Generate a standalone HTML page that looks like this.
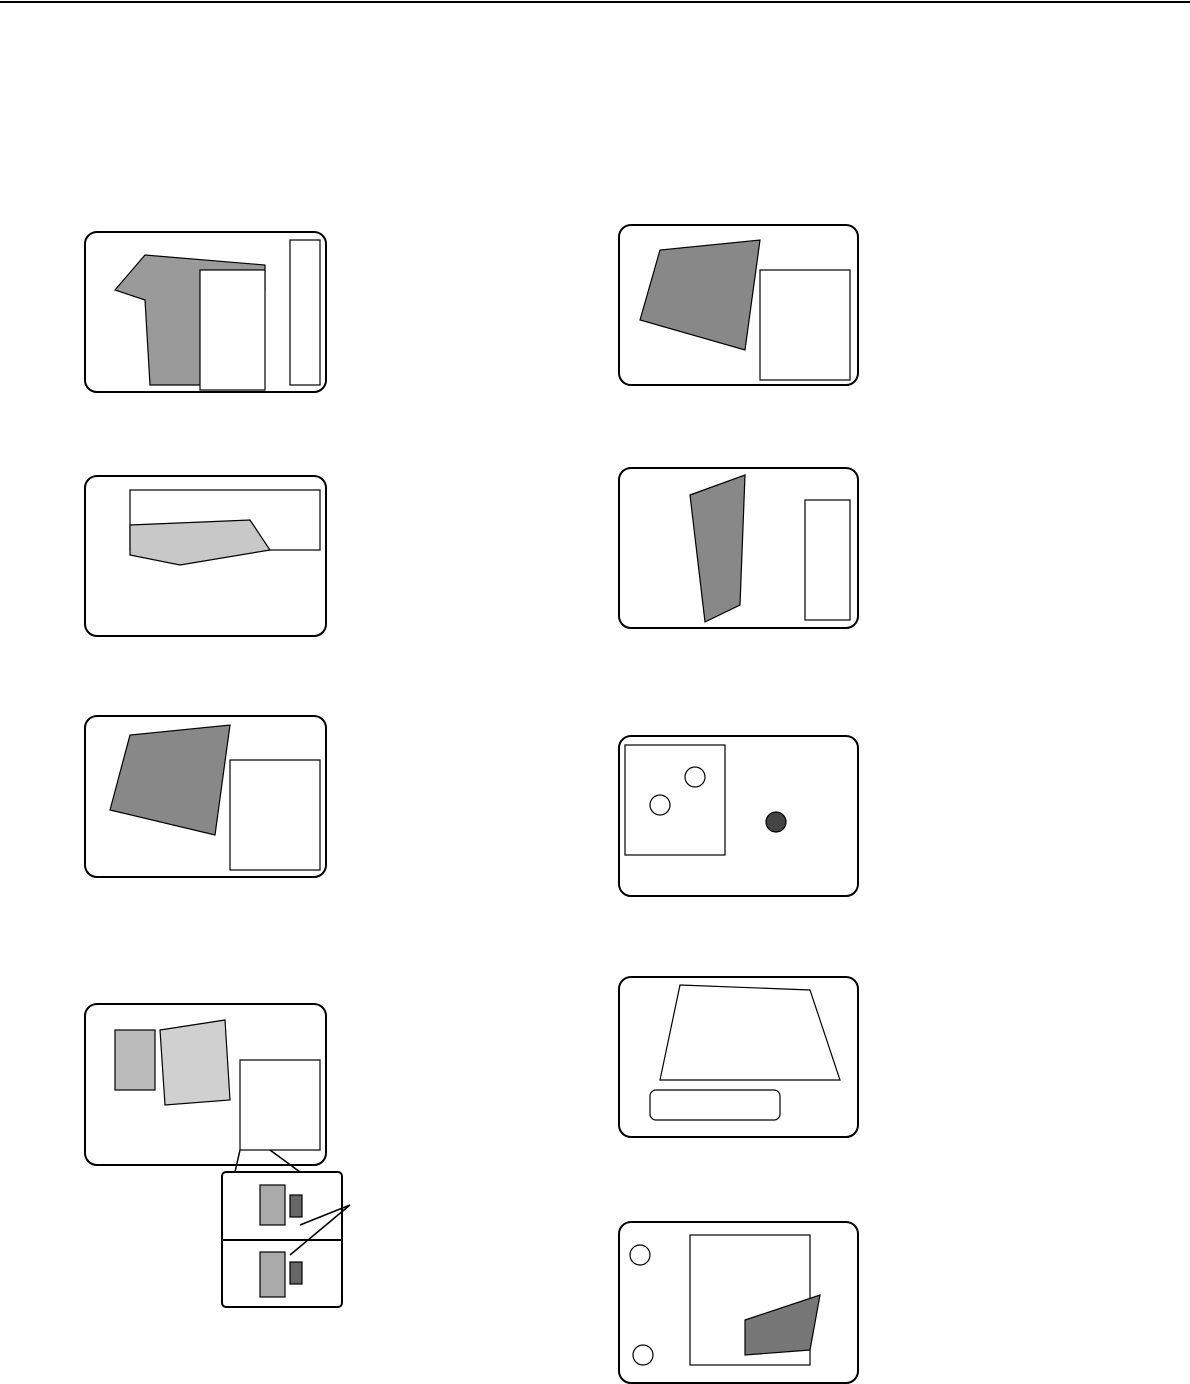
<!DOCTYPE html>
<html><head><meta charset="utf-8"><style>
html,body{margin:0;padding:0;background:#fff;}
svg{display:block;}
</style></head><body>
<svg width="1190" height="1384" viewBox="0 0 1190 1384" xmlns="http://www.w3.org/2000/svg">
<rect width="1190" height="1384" fill="#fff"/>
<line x1="0" y1="2" x2="1190" y2="2" stroke="#000" stroke-width="2"/>
<g stroke="#000" stroke-width="2" fill="none">
<!-- left frames -->
<rect x="85" y="232" width="241" height="160" rx="12"/>
<rect x="85" y="476" width="241" height="160" rx="12"/>
<rect x="85" y="716" width="241" height="161" rx="12"/>
<rect x="85" y="1004" width="241" height="161" rx="12"/>
<rect x="222" y="1172" width="120" height="135" rx="4"/>
<line x1="222" y1="1240" x2="342" y2="1240"/>
<!-- right frames -->
<rect x="619" y="225" width="239" height="160" rx="12"/>
<rect x="619" y="468" width="239" height="160" rx="12"/>
<rect x="619" y="736" width="239" height="160" rx="12"/>
<rect x="619" y="977" width="239" height="160" rx="12"/>
<rect x="619" y="1222" width="239" height="161" rx="12"/>
</g>
<g fill="#9a9a9a" stroke="#000" stroke-width="1.2">
<!-- frame 1 -->
<polygon points="115,290 145,255 265,265 265,290 210,300 200,385 150,385 145,300"/>
<rect x="200" y="270" width="65" height="120" fill="#fff"/>
<rect x="290" y="240" width="30" height="145" fill="#fff"/>
<!-- frame 2 -->
<rect x="130" y="490" width="190" height="60" fill="#fff"/>
<polygon points="130,525 250,520 270,550 180,565 130,555" fill="#c8c8c8"/>
<!-- frame 3 -->
<polygon points="110,810 130,735 230,725 215,835" fill="#888"/>
<rect x="230" y="760" width="90" height="110" fill="#fff"/>
<!-- frame 4 -->
<polygon points="160,1030 225,1020 230,1100 165,1105" fill="#d0d0d0"/>
<rect x="115" y="1030" width="40" height="60" fill="#bbb"/>
<rect x="240" y="1060" width="80" height="90" fill="#fff"/>
<rect x="260" y="1185" width="25" height="40" fill="#aaa"/>
<rect x="260" y="1252" width="25" height="45" fill="#aaa"/>
<rect x="290" y="1195" width="12" height="22" fill="#666"/>
<rect x="290" y="1262" width="12" height="22" fill="#666"/>
<!-- right frame 1 -->
<polygon points="640,320 660,250 760,240 745,350" fill="#888"/>
<rect x="760" y="270" width="90" height="110" fill="#fff"/>
<!-- right frame 2 -->
<polygon points="690,495 745,475 740,605 705,622" fill="#888"/>
<rect x="805" y="500" width="45" height="120" fill="#fff"/>
<!-- right frame 3 -->
<rect x="625" y="745" width="100" height="110" fill="#fff"/>
<circle cx="776" cy="822" r="10" fill="#444"/>
<circle cx="660" cy="805" r="10" fill="#fff"/>
<circle cx="695" cy="777" r="10" fill="#fff"/>
<!-- right frame 4 -->
<polygon points="680,985 810,990 840,1080 660,1080" fill="#fff"/>
<rect x="650" y="1090" width="130" height="30" rx="6" fill="#fff"/>
<!-- right frame 5 -->
<rect x="690" y="1235" width="120" height="130" fill="#fff"/>
<polygon points="745,1320 820,1295 810,1350 745,1355" fill="#777"/>
<circle cx="640" cy="1255" r="10" fill="#fff"/>
<circle cx="643" cy="1355" r="10" fill="#fff"/>
</g>
<g stroke="#000" stroke-width="1.5" fill="none">
<line x1="300" y1="1225" x2="350" y2="1205"/>
<line x1="290" y1="1255" x2="350" y2="1205"/>
<line x1="240" y1="1150" x2="235" y2="1172"/>
<line x1="270" y1="1150" x2="300" y2="1172"/>
</g>
</svg>
</body></html>
